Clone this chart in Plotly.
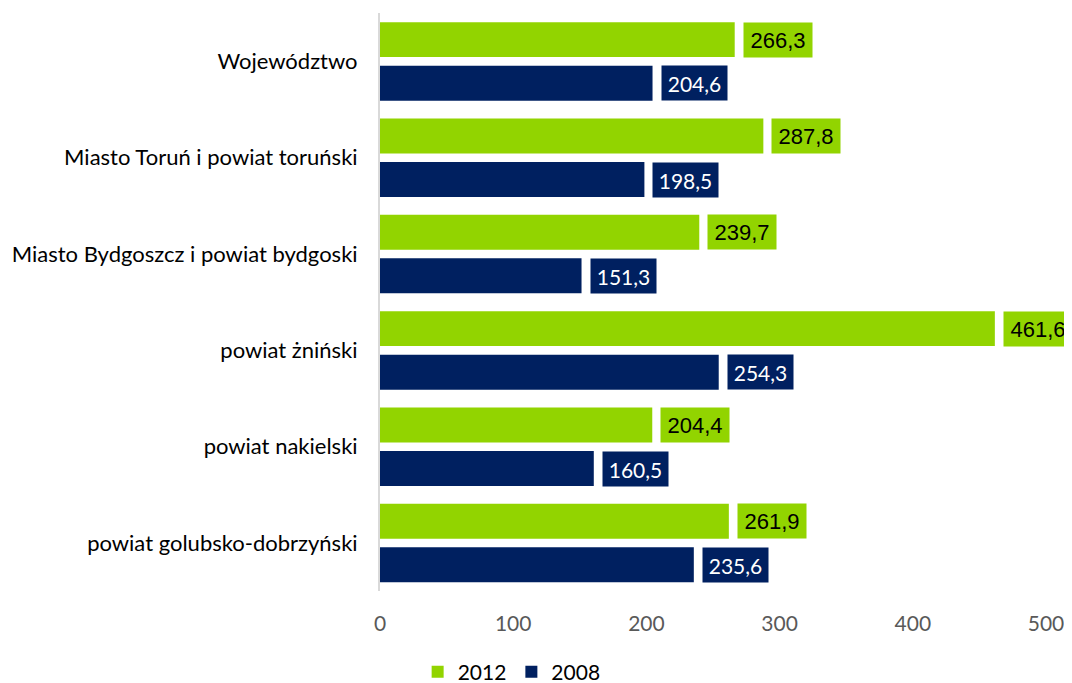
import plotly.graph_objects as go

categories = ["Województwo", "Miasto Toruń i powiat toruński", "Miasto Bydgoszcz i powiat bydgoski",
              "powiat żniński", "powiat nakielski", "powiat golubsko-dobrzyński"]
values_2012 = [266.3, 287.8, 239.7, 461.6, 204.4, 261.9]
values_2008 = [204.6, 198.5, 151.3, 254.3, 160.5, 235.6]
labels_2012 = ["266,3", "287,8", "239,7", "461,6", "204,4", "261,9"]
labels_2008 = ["204,6", "198,5", "151,3", "254,3", "160,5", "235,6"]
x_ticks = [0, 100, 200, 300, 400, 500]

GREEN = "#92D400"
NAVY = "#002060"
CAT_FONT = "Lato"

# page body has an 8px margin, so the figure is sized to the remaining viewport
FIG_W, FIG_H = 1064, 675

fig = go.Figure()
fig.add_trace(go.Bar(
    y=categories, x=values_2012, name="2012", orientation="h",
    marker=dict(color=GREEN, line=dict(width=0)),
    width=0.363, offset=-0.405, hoverinfo="x+y"))
fig.add_trace(go.Bar(
    y=categories, x=values_2008, name="2008", orientation="h",
    marker=dict(color=NAVY, line=dict(width=0)),
    width=0.363, offset=0.047, hoverinfo="x+y"))

annotations = []
for cat, v, lab in zip(categories, values_2012, labels_2012):
    annotations.append(dict(
        x=v, y=cat, xref="x", yref="y", text=lab, showarrow=False,
        xanchor="left", yanchor="middle", xshift=8, yshift=21.5,
        width=64, height=30, align="center", valign="middle",
        bgcolor=GREEN, borderpad=2,
        font=dict(family="Liberation Sans, Arial", size=22, color="#000000")))
for cat, v, lab in zip(categories, values_2008, labels_2008):
    annotations.append(dict(
        x=v, y=cat, xref="x", yref="y", text=lab, showarrow=False,
        xanchor="left", yanchor="middle", xshift=8, yshift=-22,
        width=61, height=30, align="center", valign="middle",
        bgcolor=NAVY, borderpad=2,
        font=dict(family=CAT_FONT, size=21, color="#FFFFFF")))

fig.update_layout(
    width=FIG_W, height=FIG_H,
    margin=dict(l=372, r=26, t=5, b=92, autoexpand=False),
    paper_bgcolor="white", plot_bgcolor="white",
    barmode="overlay",
    showlegend=True,
    legend=dict(orientation="h", x=0.385, xanchor="left", y=0.016, yanchor="middle",
                xref="container", yref="container",
                font=dict(family=CAT_FONT, size=21, color="#000000"),
                itemwidth=30, traceorder="normal", tracegroupgap=0),
    annotations=annotations,
    xaxis=dict(range=[0, 500], tickvals=x_ticks, ticktext=[str(t) for t in x_ticks],
               showgrid=False, zeroline=False, showline=False, ticks="",
               tickfont=dict(family=CAT_FONT, size=21, color="#595959"),
               ticklabelstandoff=18, fixedrange=True, automargin=False),
    yaxis=dict(type="category", autorange="reversed", showgrid=False, zeroline=False,
               showline=True, linecolor="#D9D9D9", linewidth=2, ticks="",
               tickfont=dict(family=CAT_FONT, size=22, color="#000000"),
               ticklabelstandoff=16, fixedrange=True, automargin=False),
)

fig.write_html("out.html")
